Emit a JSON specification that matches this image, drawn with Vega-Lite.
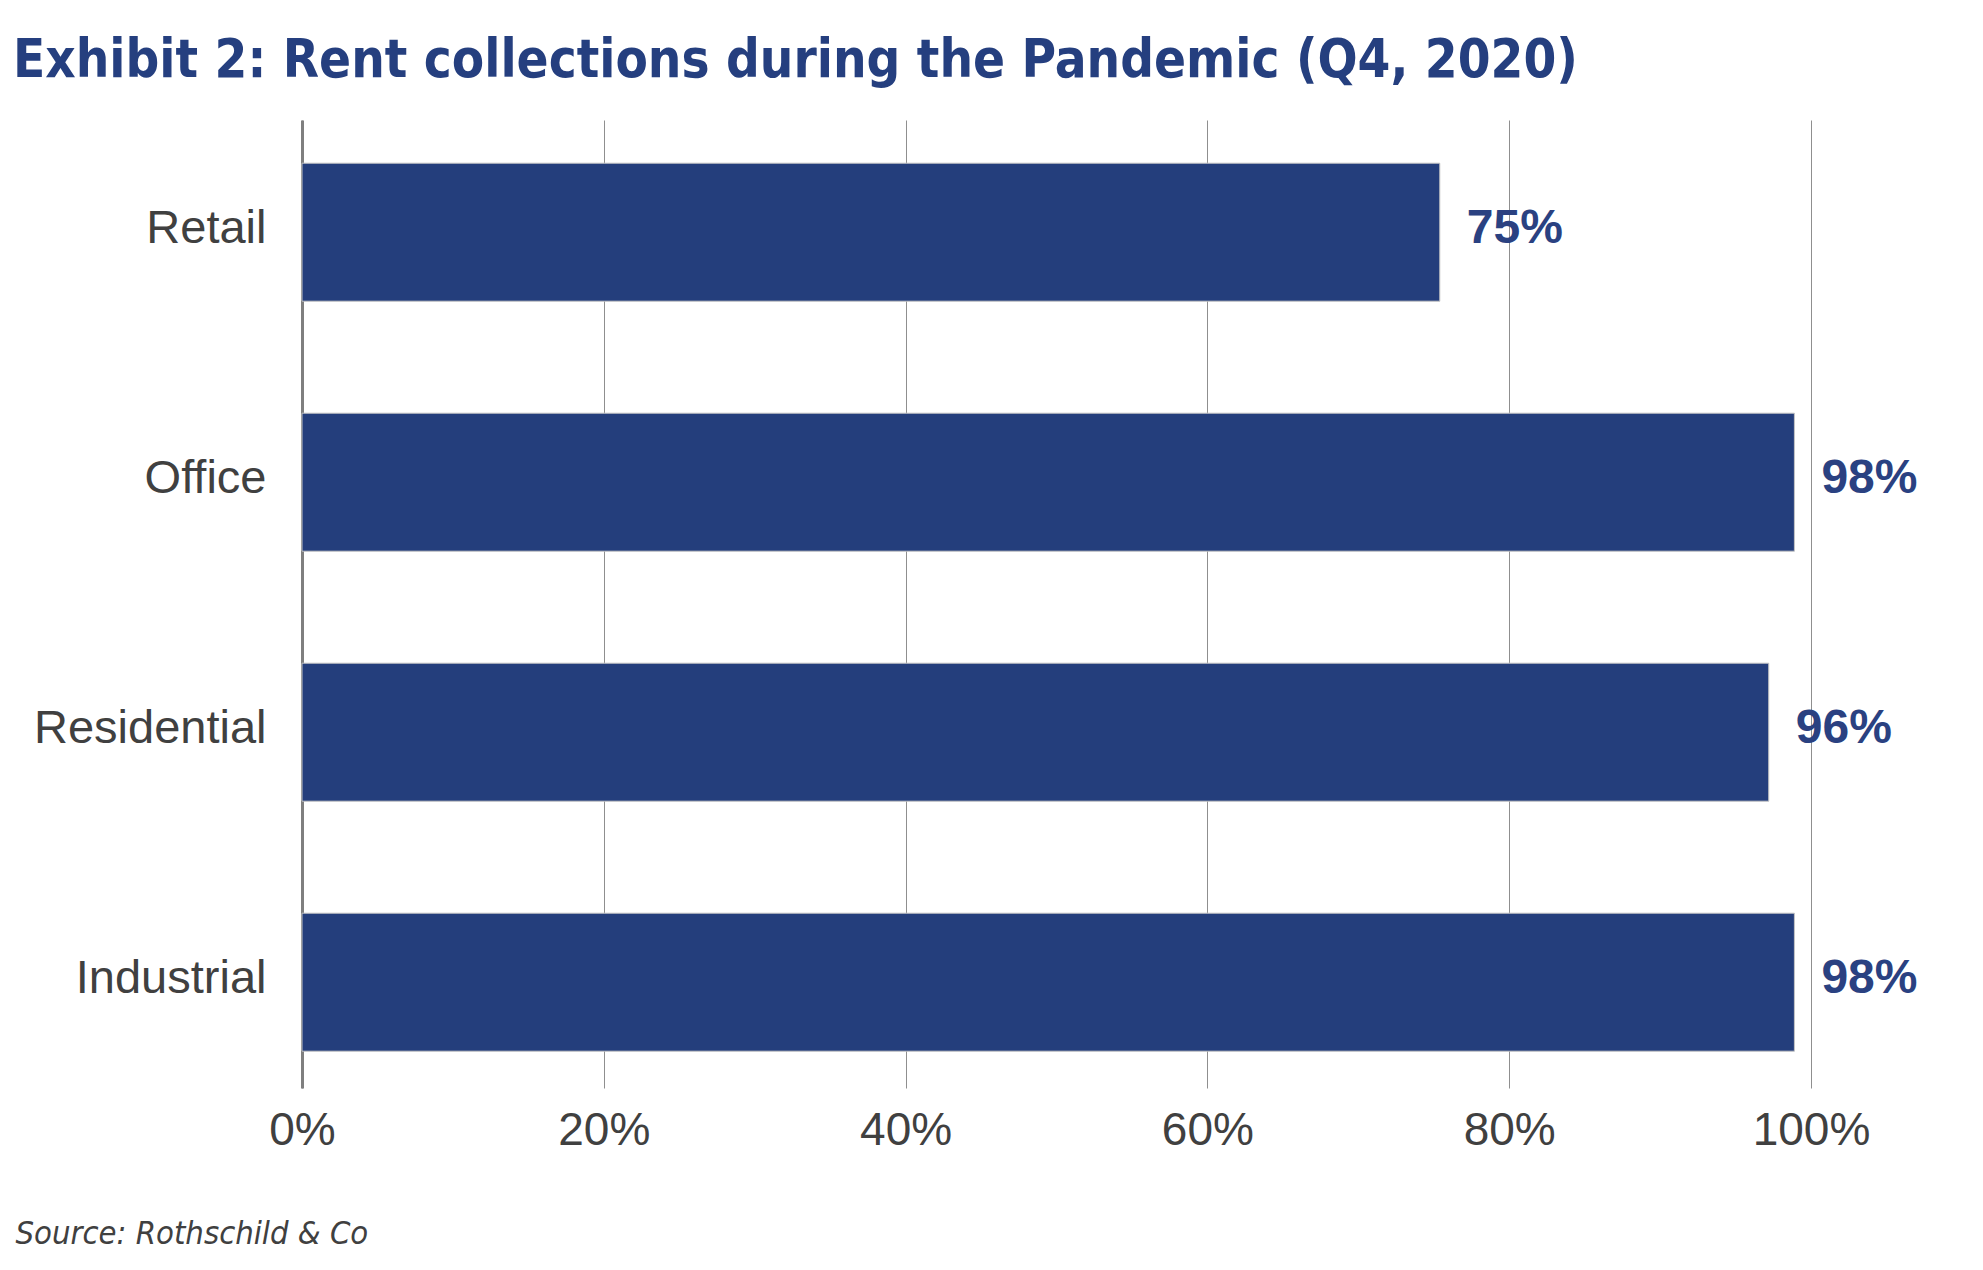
{
  "$schema": "https://vega.github.io/schema/vega-lite/v6.json",
  "width": 1509,
  "height": 968,
  "autosize": {"type": "none"},
  "padding": {"left": 302, "top": 120, "right": 172, "bottom": 182},
  "background": "white",
  "title": {
    "text": "Exhibit 2: Rent collections during the Pandemic (Q4, 2020)",
    "anchor": "start",
    "frame": "group",
    "dx": -289,
    "offset": 32,
    "baseline": "top",
    "font": "DejaVu Sans Condensed",
    "fontWeight": "bold",
    "fontSize": 52.5,
    "color": "#253f7f"
  },
  "config": {"view": {"stroke": null}},
  "data": {
    "values": [
      {"sector": "Retail", "value": 75.4, "label": "75%"},
      {"sector": "Office", "value": 98.9, "label": "98%"},
      {"sector": "Residential", "value": 97.2, "label": "96%"},
      {"sector": "Industrial", "value": 98.9, "label": "98%"}
    ]
  },
  "encoding": {
    "y": {
      "field": "sector",
      "type": "nominal",
      "sort": null,
      "scale": {"paddingInner": 0.448, "paddingOuter": 0.16, "align": 0.54},
      "axis": {
        "title": null,
        "ticks": false,
        "grid": false,
        "domainColor": "#7f7f7f",
        "domainWidth": 3,
        "labelFont": "Liberation Sans",
        "labelFontSize": 47,
        "labelColor": "#404040",
        "labelPadding": 36,
        "labelOffset": -3,
        "labelLimit": 500
      }
    }
  },
  "layer": [
    {
      "mark": {"type": "bar", "color": "#243e7c", "stroke": "#c4c4c4", "strokeWidth": 1},
      "encoding": {
        "x": {
          "field": "value",
          "type": "quantitative",
          "scale": {"domain": [0, 100]},
          "axis": {
            "values": [0, 20, 40, 60, 80, 100],
            "labelExpr": "datum.value + '%'",
            "domain": false,
            "ticks": false,
            "grid": true,
            "gridColor": "#8f8f8f",
            "gridWidth": 1,
            "labelFont": "Liberation Sans",
            "labelFontSize": 46,
            "labelColor": "#404040",
            "labelPadding": 20,
            "labelFlush": false,
            "labelOverlap": false,
            "title": "Source: Rothschild & Co",
            "titleFont": "DejaVu Sans Condensed",
            "titleFontStyle": "italic",
            "titleFontWeight": "normal",
            "titleFontSize": 32.5,
            "titleColor": "#404040",
            "titleX": -287,
            "titleY": 155,
            "titleAlign": "left",
            "titleBaseline": "alphabetic",
            "titleAnchor": "start"
          }
        }
      }
    },
    {
      "mark": {
        "type": "text",
        "align": "left",
        "baseline": "middle",
        "dx": 27,
        "dy": -3,
        "font": "Liberation Sans",
        "fontWeight": "bold",
        "fontSize": 48,
        "color": "#2a4181"
      },
      "encoding": {
        "x": {"field": "value", "type": "quantitative"},
        "text": {"field": "label"}
      }
    }
  ]
}
